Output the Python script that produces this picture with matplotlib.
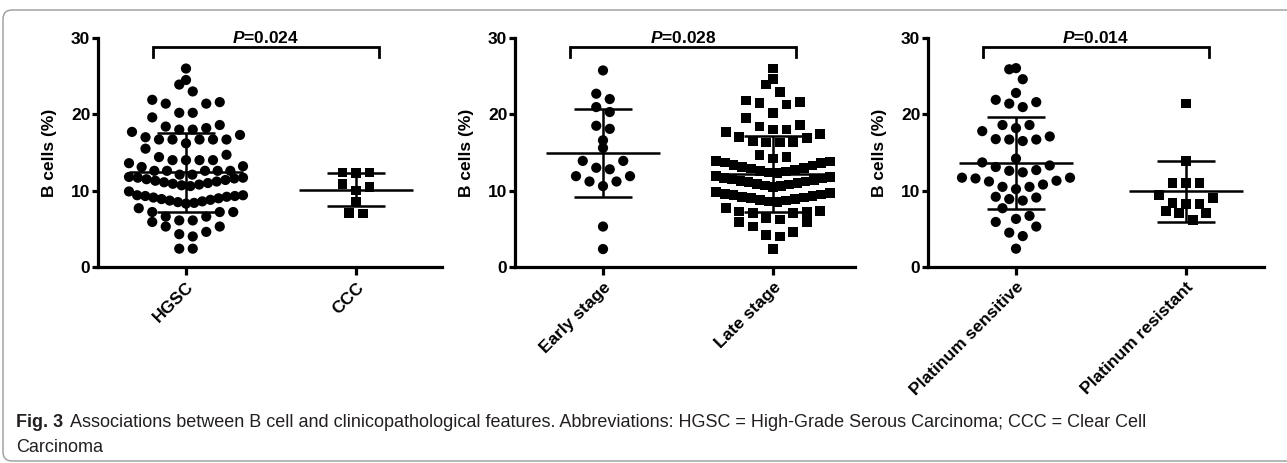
import numpy as np
import matplotlib
matplotlib.use("Agg")
import matplotlib.pyplot as plt
from matplotlib.patches import FancyBboxPatch
from matplotlib.transforms import IdentityTransform

plt.rcParams['font.family'] = ['Liberation Sans', 'DejaVu Sans']
plt.rcParams['mathtext.fontset'] = 'custom'
plt.rcParams['mathtext.it'] = 'Liberation Sans:italic:bold'
plt.rcParams['mathtext.rm'] = 'Liberation Sans:bold'

# ---------------- data ----------------
categories = [["HGSC", "CCC"],
              ["Early stage", "Late stage"],
              ["Platinum sensitive", "Platinum resistant"]]
p_values = ["0.024", "0.028", "0.014"]
y_ticks = [0, 10, 20, 30]
y_label = "B cells (%)"

hgsc = [26.0, 24.5, 23.9, 23.0, 21.9, 21.6, 21.4, 21.4, 20.2, 20.2, 19.6,
        18.6, 18.4, 18.2, 18.0, 18.0, 17.7, 17.3, 17.0, 16.7, 16.7, 16.7, 16.7, 16.7, 16.2,
        15.5, 14.7, 14.4, 14.0, 14.0, 14.0, 14.0, 13.6, 13.2, 13.1,
        12.6, 12.6, 12.6, 12.6, 12.6, 12.1, 12.1,
        11.8, 11.7, 11.7, 11.6, 11.5, 11.4, 11.3, 11.2, 11.1, 11.0, 10.9, 10.8, 10.7, 10.6,
        9.9, 9.4,
        9.4, 9.3, 9.3, 9.2, 9.1, 9.0, 8.9, 8.8, 8.7, 8.6, 8.5, 8.4, 8.3,
        7.7, 7.2, 7.2, 7.2, 6.6, 6.6, 6.1, 6.1, 5.9, 5.3, 5.3, 4.6, 4.3, 4.0, 2.4, 2.4]
ccc = [12.4, 12.4, 12.3, 10.9, 10.5, 10.0, 8.6, 7.05, 7.0]

early = [25.75, 22.7, 22.0, 20.95, 20.3, 18.5, 18.1, 16.6, 15.6, 13.9, 13.9,
         13.0, 12.8, 11.9, 11.9, 11.2, 11.2, 10.6, 5.3, 2.35]
late = [26.0, 24.6, 23.9, 22.9, 21.8, 21.6, 21.5, 21.3, 20.2, 19.5, 18.6, 18.4,
        18.0, 18.0, 17.7, 17.4, 17.0, 16.9, 16.5, 16.4, 16.3, 16.3, 14.7, 14.4, 14.2,
        13.9, 13.8, 13.7, 13.6, 13.4, 13.3, 13.1, 13.0, 12.9, 12.7, 12.6, 12.5, 12.4, 12.3,
        11.9, 11.8, 11.7, 11.6, 11.5, 11.4, 11.3, 11.2, 11.1, 11.0, 10.9, 10.8, 10.7, 10.6, 10.5,
        9.8, 9.7, 9.6, 9.5, 9.4, 9.3, 9.2, 9.1, 9.0, 8.9, 8.8, 8.7, 8.6, 8.5,
        7.7, 7.3, 7.25, 7.2, 7.1, 7.1, 6.4, 6.2, 5.9, 5.9, 5.3, 4.6, 4.2, 4.0, 2.35]

plat_sensitive = [26.05, 25.9, 24.6, 22.8, 21.9, 21.6, 21.4, 20.95, 18.6, 18.6, 18.2,
                  17.8, 17.1, 16.75, 16.7, 16.7, 16.5, 14.2, 13.7, 13.3, 13.1, 12.7,
                  12.6, 12.4, 11.7, 11.7, 11.6, 11.3, 11.2, 10.8, 10.5, 10.5, 10.2,
                  9.2, 9.1, 8.9, 8.7, 7.7, 6.7, 6.3, 5.9, 5.3, 4.5, 4.05, 2.4]
plat_resistant = [21.4, 13.9, 11.0, 11.0, 11.0, 9.4, 9.0, 8.4, 8.25, 8.25, 7.3, 7.1, 7.05, 6.15]

panel_data = [[hgsc, ccc], [early, late], [plat_sensitive, plat_resistant]]

# mean and SD
group_means = [[12.4, 10.15], [14.95, 12.15], [13.6, 9.9]]
group_sds = [[5.2, 2.15], [5.8, 4.95], [6.0, 4.0]]

caption_bold = "Fig. 3"
caption_line1 = ("Associations between B cell and clinicopathological features. "
                 "Abbreviations: HGSC = High-Grade Serous Carcinoma; CCC = Clear Cell")
caption_line2 = "Carcinoma"

# ---------------- layout ----------------
W, H = 1287, 463
fig = plt.figure(figsize=(W / 100, H / 100), dpi=100)

axes_px = [(98, 344), (515, 340), (928, 336)]
ax_top, ax_bot = 38, 267
px_per_cat = 170.0
markers = ['o', 's']
msizes = [54, 48]
BIN_H = 2.0        # bin height (data units) for scatter spreading
SPACING_PX = 13.5  # horizontal spacing between points in a bin
MAX_HALF_PX = 57   # maximal half-width of the cloud


def spread(values, xc, sx):
    """Prism-like column scatter: bin by value, spread each bin centre-out."""
    vals = np.asarray(values, float)
    xs = np.full(len(vals), float(xc))
    bins = np.floor(vals / BIN_H).astype(int)
    for b in np.unique(bins):
        idx = np.where(bins == b)[0]
        idx = idx[np.argsort(vals[idx], kind='stable')]
        n = len(idx)
        s = SPACING_PX
        if n > 1:
            s = min(SPACING_PX, 2 * MAX_HALF_PX / (n - 1))
        pos = (np.arange(n) - (n - 1) / 2.0) * s
        pos = sorted(pos, key=lambda p: (round(abs(p), 6), -p))
        for j, i in enumerate(idx):
            xs[i] = xc + pos[j] / sx
    return xs


for k, (left, width) in enumerate(axes_px):
    ax = fig.add_axes([left / W, (H - ax_bot) / H, width / W, (ax_bot - ax_top) / H])
    x0 = -88 / px_per_cat
    ax.set_xlim(x0, x0 + width / px_per_cat)
    ax.set_ylim(0, 30)
    for s in ['top', 'right']:
        ax.spines[s].set_visible(False)
    for s in ['left', 'bottom']:
        ax.spines[s].set_linewidth(2.3)
    ax.set_yticks(y_ticks)
    ax.set_yticklabels([str(t) for t in y_ticks], fontsize=12.5, fontweight='bold')
    ax.set_xticks([0, 1])
    ax.set_xticklabels(categories[k], rotation=45, ha='right', rotation_mode='anchor',
                       fontsize=12.5, fontweight='bold')
    ax.tick_params(axis='y', length=4.5, width=2.3, pad=1)
    ax.tick_params(axis='x', length=6, width=2.3, pad=3)
    ax.set_ylabel(y_label, fontsize=12.5, fontweight='bold', labelpad=10)

    sx = ax.transData.transform([[1, 0]])[0, 0] - ax.transData.transform([[0, 0]])[0, 0]
    for g in range(2):
        vals = panel_data[k][g]
        xs = spread(vals, g, sx)
        ax.scatter(xs, vals, s=msizes[g], marker=markers[g], color='black',
                   edgecolors='none', zorder=3, clip_on=False)
        m, sd = group_means[k][g], group_sds[k][g]
        ax.hlines(m, g - 0.335, g + 0.335, color='black', lw=1.8, zorder=4)
        ax.hlines([m - sd, m + sd], g - 0.17, g + 0.17, color='black', lw=1.8, zorder=4)
        ax.vlines(g, m - sd, m + sd, color='black', lw=1.8, zorder=4)

    bl, br = 0 - 0.195, 1 + 0.135
    ax.plot([bl, bl, br, br], [27.5, 28.85, 28.85, 27.5], color='black', lw=2.0,
            clip_on=False, solid_joinstyle='miter')
    ax.text((bl + br) / 2, 29.35, r"$P$=" + p_values[k], ha='center', va='baseline',
            fontsize=12.5, fontweight='bold', clip_on=False)

# frame around figure
frame = FancyBboxPatch((3, 2), 1400, H - 12, boxstyle="round,pad=0,rounding_size=9",
                       transform=IdentityTransform(), fill=False, edgecolor='#9a9a9a',
                       lw=1.0, figure=fig)
fig.patches.append(frame)

cap_font = ['Liberation Sans Narrow', 'Liberation Sans', 'DejaVu Sans']
cap_color = '#231f20'
t1 = fig.text(16 / W, 1 - 427 / H, caption_bold, fontsize=13, fontweight='bold',
              family=cap_font, color=cap_color, va='baseline')
r = fig.canvas.get_renderer()
bb = t1.get_window_extent(renderer=r)
fig.text((bb.x1 + 7) / W, 1 - 427 / H, caption_line1, fontsize=13,
         family=cap_font, color=cap_color, va='baseline')
fig.text(16 / W, 1 - 452 / H, caption_line2, fontsize=13,
         family=cap_font, color=cap_color, va='baseline')

fig.savefig("out.png", dpi=100)
